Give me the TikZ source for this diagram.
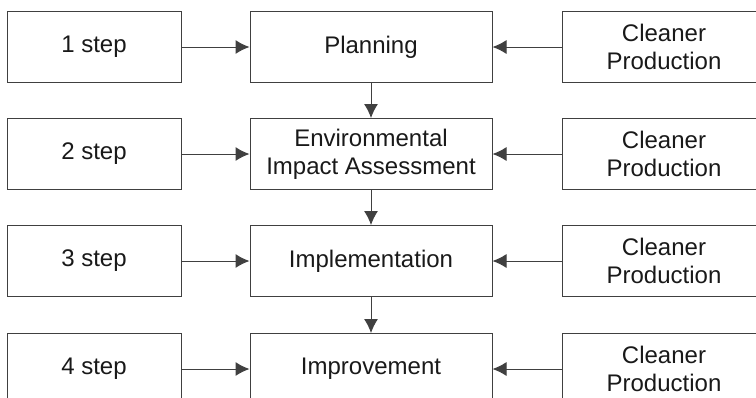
\documentclass[tikz,border=0pt]{standalone}
\usepackage{fontspec}
\setmainfont{Liberation Sans}
\usepackage{tikz}
\usetikzlibrary{positioning,arrows.meta}
\tikzstyle{block} = [draw=black!75, line width=0.5pt, rectangle, align=center, minimum height=35.5pt, font=\fontsize{12}{14}\selectfont, text=black!90]
\tikzstyle{stepbox} = [block, minimum width=87pt]
\tikzstyle{phase} = [block, minimum width=121pt]
\tikzstyle{cp} = [block, minimum width=102pt]
\tikzstyle{arr} = [draw=black!75, line width=0.5pt, -{Latex[length=7pt,width=7pt]}]

\begin{document}
\begin{tikzpicture}[node distance=17.5pt and 34pt]
\useasboundingbox (0,0) rectangle (378pt,-198.5pt);
\node (plan) [phase] at (185.5pt,-23.5pt) {Planning};
\node (step1) [stepbox, left=of plan] {1 step};
\draw [arr] (step1) -- (plan);
\node (cp1) [cp, right=34.5pt of plan] {Cleaner\\Production};
\draw [arr] (cp1) -- (plan);
\node (eia) [phase, below=of plan] {Environmental\\Impact Assessment};
\draw [arr] (plan) -- (eia);
\node (step2) [stepbox, left=of eia] {2 step};
\draw [arr] (step2) -- (eia);
\node (cp2) [cp, right=34.5pt of eia] {Cleaner\\Production};
\draw [arr] (cp2) -- (eia);
\node (impl) [phase, below=of eia] {Implementation};
\draw [arr] (eia) -- (impl);
\node (step3) [stepbox, left=of impl] {3 step};
\draw [arr] (step3) -- (impl);
\node (cp3) [cp, right=34.5pt of impl] {Cleaner\\Production};
\draw [arr] (cp3) -- (impl);
\node (impr) [phase, below=18pt of impl] {Improvement};
\draw [arr] (impl) -- (impr);
\node (step4) [stepbox, left=of impr] {4 step};
\draw [arr] (step4) -- (impr);
\node (cp4) [cp, right=34.5pt of impr] {Cleaner\\Production};
\draw [arr] (cp4) -- (impr);
\end{tikzpicture}
\end{document}
